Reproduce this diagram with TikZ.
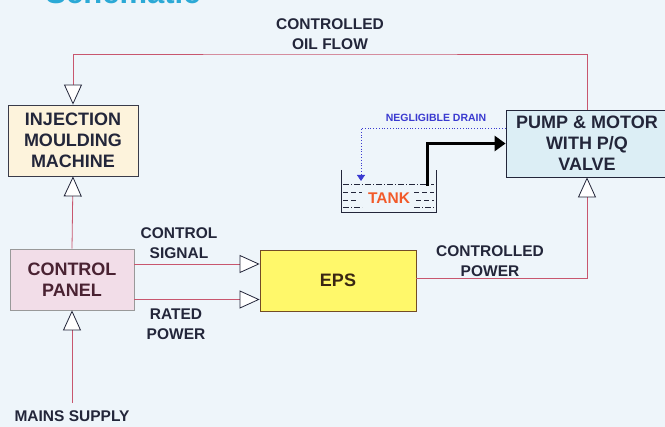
\documentclass[tikz,border=0pt]{standalone}
\usepackage{fontspec}
\setmainfont{Liberation Sans}
\usetikzlibrary{positioning, arrows.meta}
\definecolor{colour_bg}{HTML}{EEF5FA}
\definecolor{colour_text}{HTML}{23263A}
\definecolor{colour_line}{HTML}{C8566E}
\definecolor{colour_imm}{HTML}{FDF3DC}
\definecolor{colour_pump}{HTML}{DCEEF5}
\definecolor{colour_panel}{HTML}{F2DDE8}
\definecolor{colour_eps}{HTML}{FFF86A}
\definecolor{colour_drain}{HTML}{3A3AD0}
\definecolor{colour_tank}{HTML}{F25A2A}
\definecolor{colour_title}{HTML}{2BA9D6}
\definecolor{colour_maroon}{HTML}{4A2232}

\begin{document}
\begin{tikzpicture}[
    x=1pt, y=-1pt,
    font=\bfseries\fontsize{18}{21}\selectfont,
    text=colour_text,
    box/.style={rectangle, draw, thick, align=center, inner sep=0pt},
    tag/.style={font=\bfseries\fontsize{15.5}{20}\selectfont, align=center},
    tri/.style={-{Triangle[open, fill=white, color=colour_text, length=20pt, width=18pt, line width=0.8pt]}},
    flow/.style={colour_line, thick, tri},
    imm/.style={fill=colour_imm, draw=colour_imm!10!colour_text},
    pump/.style={fill=colour_pump, draw=colour_text},
    panel/.style={fill=colour_panel, draw=gray!80},
    eps/.style={fill=colour_eps, draw=brown!60!black},
    level/.style={colour_text, thin}
]

% Background and title
\useasboundingbox[fill=colour_bg] (0,0) rectangle (665,427);
\node[anchor=base west, text=colour_title, font=\bfseries\fontsize{31}{31}\selectfont]
     (title) at (42,4) {Schematic};

% Blocks
\node[box, imm, minimum width=130, minimum height=71] (imm) at (73,140.5)
     {INJECTION\\MOULDING\\MACHINE};
\node[box, pump, minimum width=162, minimum height=67] (pump) at (587,143.5)
     {PUMP \& MOTOR\\WITH P/Q\\VALVE};
\node[box, panel, minimum width=124, minimum height=61, text=colour_maroon] (panel) at (72,279.5)
     {CONTROL\\PANEL};
\node[box, eps, minimum width=156, minimum height=61, text=brown!30!black] (eps) at (338,280.5)
     {EPS};

% Free ends
\coordinate (oiltop) at (330,54);
\coordinate (mains) at (72,403);
\coordinate (outlet) at (427,186);
\coordinate (inlet) at (361,181);

% Connectors
\draw[flow] (pump.north) |- (oiltop) -| (imm.north);
\draw[flow] (panel.north) -- (imm.south);
\draw[flow] (mains) -- (panel.south);
\draw[flow] ([yshift=2.5pt]eps.east) -| (pump.south);
\draw[flow] ([yshift=15.5pt]panel.east) -- ([yshift=15.5pt]panel.east -| eps.west);
\draw[flow] ([yshift=-20pt]panel.east) -- ([yshift=-20pt]panel.east -| eps.west);

% Labels
\node[tag, above=1pt of oiltop] (oillbl) {CONTROLLED\\OIL FLOW};
\node[tag, below=4pt of mains] (mainslbl) {MAINS SUPPLY};
\node[tag, anchor=south] (siglbl) at (179,262) {CONTROL\\SIGNAL};
\node[tag, anchor=north] (ratedlbl) at (176,305) {RATED\\POWER};
\node[tag, anchor=south] (powlbl) at (490,280) {CONTROLLED\\POWER};

% Tank
\draw[colour_text, thick] (341,170) -- (341,212) -- (436,212) -- (436,170);
\draw[level, dash pattern=on 6pt off 2pt on 1pt off 2pt] (343,184) -- (434,184);
\draw[level, dash pattern=on 5pt off 3pt] (343,192) -- (362,192) (414,192) -- (434,192);
\draw[level, dash pattern=on 5pt off 3pt] (343,200) -- (358,200) (416,200) -- (434,200);
\draw[level, dash pattern=on 6pt off 2pt on 1pt off 2pt] (343,207) -- (362,207) (414,207) -- (434,207);
\node[text=colour_tank, font=\bfseries\fontsize{15.5}{18}\selectfont] (tank) at (389,198) {TANK};

% Pump suction and drain
\draw[line width=3pt, -{Triangle[length=11pt, width=15pt]}] (outlet) |- (pump.west);
\draw[colour_drain, thick, dotted, -{Triangle[length=6pt, width=8pt]}]
     ([yshift=15.5pt]pump.west) -| (inlet);
\node[text=colour_drain, font=\bfseries\fontsize{10.5}{12}\selectfont, anchor=south]
     (drainlbl) at (436,125) {NEGLIGIBLE DRAIN};

\end{tikzpicture}
\end{document}
